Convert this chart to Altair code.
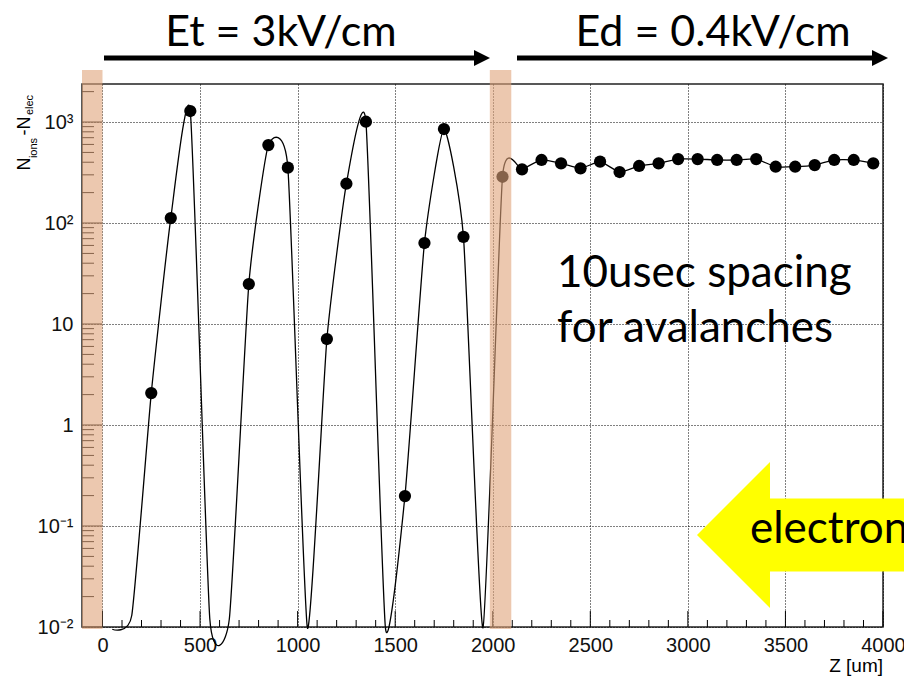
import altair as alt
import pandas as pd

# ---------------- data ----------------
z_um = [50, 150, 250, 350, 450, 550, 650, 750, 850, 950,
        1050, 1150, 1250, 1350, 1450, 1550, 1650, 1750, 1850, 1950,
        2050, 2150, 2250, 2350, 2450, 2550, 2650, 2750, 2850, 2950,
        3050, 3150, 3250, 3350, 3450, 3550, 3650, 3750, 3850, 3950]
n_diff = [0.0095, 0.013, 2.07, 112, 1285, 0.012, 0.012, 24.9, 591, 353,
          0.0098, 7.1, 245, 1007, 0.0098, 0.198, 63.4, 853, 73, 0.0098,
          287, 340, 421, 390, 348, 405, 320, 367, 390, 430,
          430, 421, 421, 430, 361, 361, 375, 421, 421, 390]

x_major = [0, 500, 1000, 1500, 2000, 2500, 3000, 3500, 4000]
x_minor = [v for v in range(100, 4000, 100) if v % 500]
y_major = [0.01, 0.1, 1, 10, 100, 1000]
y_labels = ["10⁻²", "10⁻¹", "1", "10", "10²", "10³"]
y_minor = [m * 10.0 ** e for e in range(-2, 3) for m in range(2, 10)] + [2000]

band_start = [-105, 1985]
band_end = [0, 2095]

df = pd.DataFrame({"z": z_um, "n": n_diff})

W, H = 801, 543
xs = alt.Scale(domain=[-105, 4000], nice=False, zero=False)
ys = alt.Scale(type="log", domain=[0.01, 2380], nice=False)

label_expr = " : ".join(
    f"datum.value == {v} ? '{t}'" for v, t in zip(y_major, y_labels)
) + " : ''"

x_axis = alt.Axis(values=x_major, grid=True, gridDash=[1, 2], gridColor="black",
                  gridOpacity=1, gridWidth=1, ticks=False, domain=False, format="d",
                  labelFont="Liberation Sans", labelFontSize=20, labelColor="#111",
                  labelPadding=8, labelFlush=False, labelOverlap=False, labelBound=False,
                  title=None, zindex=0)
y_axis = alt.Axis(values=y_major, grid=True, gridDash=[1, 2], gridColor="black",
                  gridOpacity=1, gridWidth=1, ticks=False, domain=False,
                  labelFont="Liberation Sans", labelFontSize=20, labelColor="#111",
                  labelPadding=9, labelFlush=False, labelOverlap=False, labelBound=False,
                  labelExpr=label_expr, title=None, zindex=0)

X = lambda f: alt.X(f, scale=xs, axis=x_axis, title=None)
Y = lambda f: alt.Y(f, scale=ys, axis=y_axis, title=None)

line = alt.Chart(df).mark_line(
    interpolate="cardinal", tension=0.5, color="black", strokeWidth=1.3, clip=False
).encode(x=X("z:Q"), y=Y("n:Q"))

points = alt.Chart(df).transform_filter("datum.n >= 0.05").mark_circle(
    size=150, color="black", opacity=1
).encode(x=X("z:Q"), y=Y("n:Q"))

# inward ticks (ROOT style)
def xticks(vals, length):
    return alt.Chart(pd.DataFrame({"z": vals})).mark_rule(color="black", strokeWidth=1).encode(
        x=X("z:Q"), y=alt.value(H), y2=alt.value(H - length))

def yticks(vals, length):
    return alt.Chart(pd.DataFrame({"n": vals})).mark_rule(color="black", strokeWidth=1).encode(
        y=Y("n:Q"), x=alt.value(0), x2=alt.value(length))

bands = alt.Chart(pd.DataFrame({"z": band_start, "b": band_end})).mark_rect(
    color="#E0A47A", opacity=0.6
).encode(
    x=X("z:Q"), x2="b:Q",
    y=alt.value(-14), y2=alt.value(545),
)

def txt(s, x, y, size, font="Lato", align="left", angle=0, baseline="alphabetic"):
    return alt.Chart(pd.DataFrame({"t": [s]})).mark_text(
        font=font, fontSize=size, align=align, baseline=baseline, angle=angle, color="black"
    ).encode(x=alt.value(x), y=alt.value(y), text="t:N")

def arrow(x0, x1, y):
    shaft = alt.Chart(pd.DataFrame({"k": [0]})).mark_rule(color="black", strokeWidth=5).encode(
        x=alt.value(x0), x2=alt.value(x1), y=alt.value(y))
    head = alt.Chart(pd.DataFrame({"k": [0]})).mark_point(
        shape="M-1,-1L1,0L-1,1Z", filled=True, fill="black", size=256, strokeWidth=0, opacity=1
    ).encode(x=alt.value(x1), y=alt.value(y))
    return shaft + head

yellow = alt.Chart(pd.DataFrame({"k": [0]})).mark_point(
    shape="M-1,0L0,-1L0,-0.5L3,-0.5L3,0.5L0,0.5L0,1Z", filled=True, fill="#FFFF00",
    size=(2 * 73) ** 2, strokeWidth=0, opacity=1
).encode(x=alt.value(688), y=alt.value(451))

ytitle = (
    txt("N", -52, 80, 18, font="Liberation Sans", align="center", angle=270)
    + txt("ions", -45, 64, 11, font="Liberation Sans", align="center", angle=270)
    + txt("-N", -52, 42, 18, font="Liberation Sans", align="center", angle=270)
    + txt("elec", -49, 21, 11, font="Liberation Sans", align="center", angle=270)
)

chart = alt.layer(
    line,
    points,
    xticks(x_major, 16), xticks(x_minor, 7),
    yticks(y_major, 20), yticks(y_minor, 12),
    bands,
    arrow(22, 400, -26), arrow(435, 798, -26),
    txt("Et = 3kV/cm", 199, -38, 43, align="center"),
    txt("Ed = 0.4kV/cm", 631, -38, 43, align="center"),
    txt("10usec spacing", 475, 203, 44),
    txt("for avalanches", 475, 258, 44),
    yellow,
    txt("electron", 668, 459, 44),
    txt("Z [um]", 801, 588, 19, font="Liberation Sans", align="right"),
    ytitle,
).properties(
    width=W, height=H,
    padding={"left": 82, "top": 84, "right": 21, "bottom": 49},
    autosize=alt.AutoSizeParams(type="none"),
    background="white",
).configure_view(stroke="#222", strokeWidth=1.5)

chart.save("out.html", embed_options={"renderer": "svg", "actions": False})
